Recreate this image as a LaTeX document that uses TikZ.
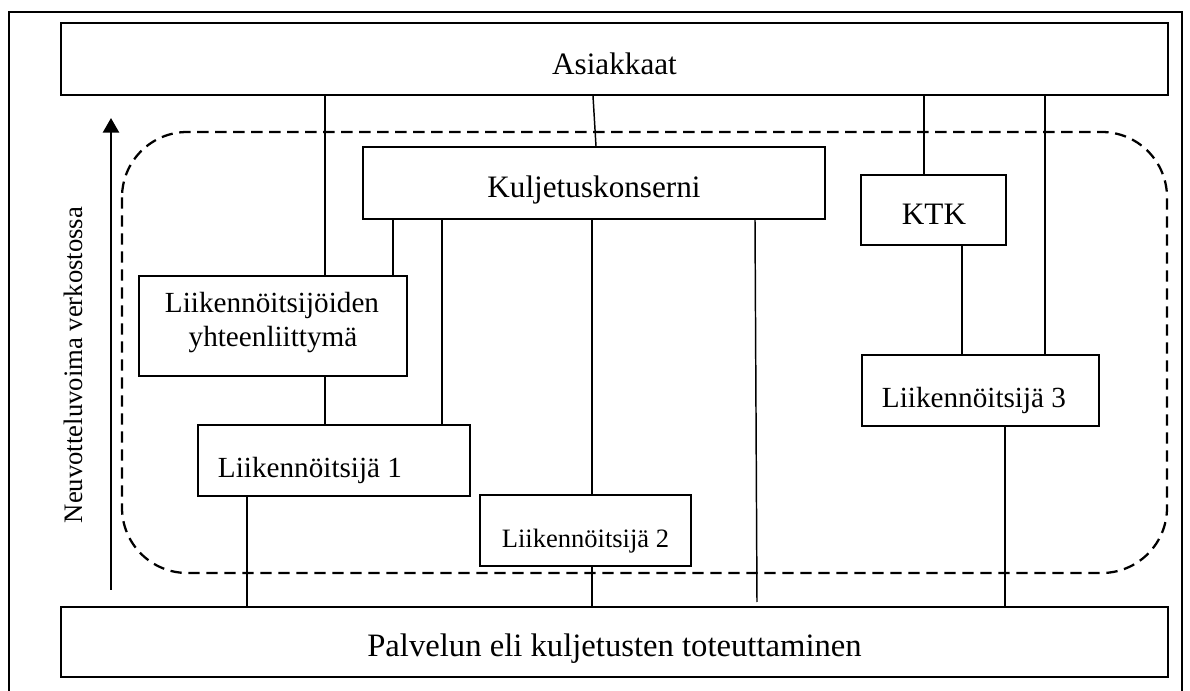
\documentclass[tikz,border=0pt]{standalone}
\usepackage{fontspec}
\setmainfont{Liberation Serif}
\usetikzlibrary{arrows.meta,fit}
\begin{document}
\begin{tikzpicture}[x=0.75pt,y=-0.75pt,
  frame/.style={line width=1.3pt},
  box/.style={draw, line width=1.4pt, inner sep=0pt, rectangle},
  link/.style={line width=1.1pt},
  zone/.style={line width=1.7pt, dash pattern=on 8.5pt off 5pt, rounded corners=49pt},
  lbl/.style={anchor=base, inner sep=0pt},
  fbig/.style={font=\fontsize{23.4pt}{28pt}\selectfont},
  fbot/.style={font=\fontsize{24.5pt}{29pt}\selectfont},
  fmid/.style={font=\fontsize{21.9pt}{26pt}\selectfont},
  fsmall/.style={font=\fontsize{19.9pt}{24pt}\selectfont},
  fside/.style={font=\fontsize{20pt}{24pt}\selectfont}]

\useasboundingbox (0,0) rectangle (1190,691);
\fill[white] (0,0) rectangle (1190,691);

% outer frame
\draw[frame] (9,693) -- (9,12) -- (1182,12) -- (1182,693);

% negotiation-power zone
\draw[zone] (122,132) rectangle (1167,573);

% boxes
\node[box, fit={(61,23) (1168,95)}] (asi) {};
\node[box, fit={(363,147) (825,219)}] (kul) {};
\node[box, fit={(861,175) (1006,245)}] (ktk) {};
\node[box, fit={(139,276) (407,376)}] (liy) {};
\node[box, fit={(198,425) (470,496)}] (l1) {};
\node[box, fit={(480,495) (691,566)}] (l2) {};
\node[box, fit={(862,355) (1099,426)}] (l3) {};
\node[box, fit={(61,607) (1168,677)}] (pal) {};

% box texts
\node[lbl, fbig] (asi-t) at (614.5,75) {Asiakkaat};
\node[lbl, fbig] (kul-t) at (594,198) {Kuljetuskonserni};
\node[lbl, fbig] (ktk-t) at (934,225) {KTK};
\node[lbl, fmid] (liy-t1) at (272,313) {Liikennöitsijöiden};
\node[lbl, fmid] (liy-t2) at (273,347) {yhteenliittymä};
\node[lbl, fmid] (l1-t) at (310,478) {Liikennöitsijä 1};
\node[lbl, fsmall] (l2-t) at (585.5,548) {Liikennöitsijä 2};
\node[lbl, fmid] (l3-t) at (974,408) {Liikennöitsijä 3};
\node[lbl, fbot] (pal-t) at (614.5,657) {Palvelun eli kuljetusten toteuttaminen};

% side arrow and its label
\coordinate (arrbase) at (111,590);
\coordinate (arrtip) at (111,118);
\draw[line width=1.9pt, -{Triangle[length=11pt,width=12pt]}] (arrbase) -- (arrtip);
\node[lbl, fside, rotate=90] (side-t) at (82,365) {Neuvotteluvoima verkostossa};

% columns of the connectors
\coordinate (c247) at (247,0);
\coordinate (c325) at (325,0);
\coordinate (c393) at (393,0);
\coordinate (c442) at (442,0);
\coordinate (c592) at (592,0);
\coordinate (c593) at (593,0);
\coordinate (c596) at (596,0);
\coordinate (c755) at (755,0);
\coordinate (c924) at (924,0);
\coordinate (c962) at (962,0);
\coordinate (c1005) at (1005,0);
\coordinate (c1045) at (1045,0);
\coordinate (kulend) at (757,602);

% connectors
\draw[link] (asi.south -| c325) -- (liy.north -| c325);
\draw[link] (liy.south -| c325) -- (l1.north -| c325);
\draw[link] (asi.south -| c593) -- (kul.north -| c596);
\draw[link] (asi.south -| c924) -- (ktk.north -| c924);
\draw[link] (asi.south -| c1045) -- (l3.north -| c1045);
\draw[link] (kul.south -| c393) -- (liy.north -| c393);
\draw[link] (kul.south -| c442) -- (l1.north -| c442);
\draw[link] (kul.south -| c592) -- (l2.north -| c592);
\draw[link] (kul.south -| c755) -- (kulend);
\draw[link] (ktk.south -| c962) -- (l3.north -| c962);
\draw[link] (l1.south -| c247) -- (pal.north -| c247);
\draw[link] (l2.south -| c592) -- (pal.north -| c592);
\draw[link] (l3.south -| c1005) -- (pal.north -| c1005);

\end{tikzpicture}
\end{document}
